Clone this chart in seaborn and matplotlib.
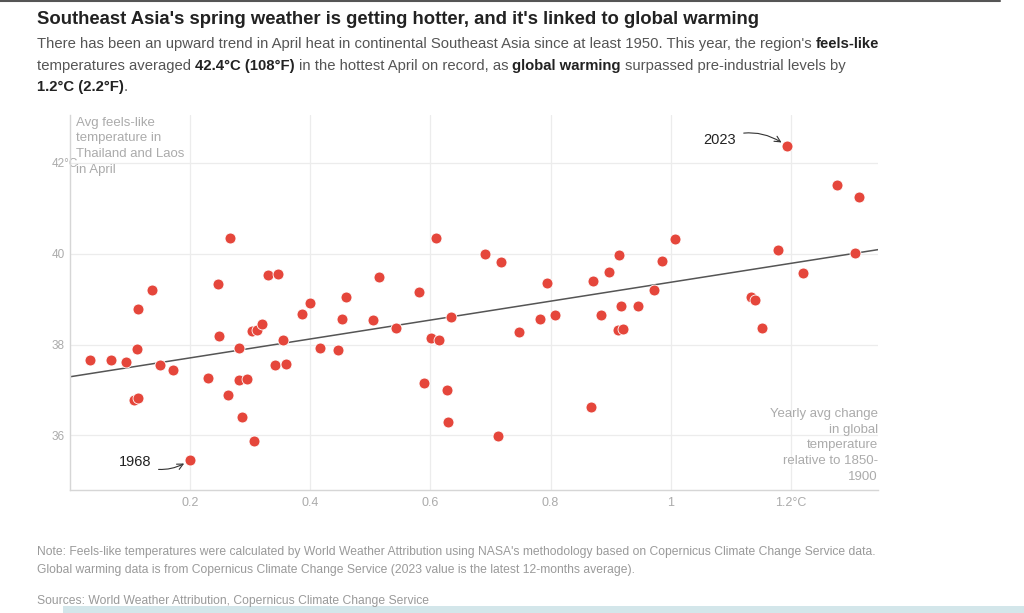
import numpy as np
import pandas as pd
import matplotlib.pyplot as plt
import seaborn as sns
from matplotlib.patches import Rectangle
from matplotlib.lines import Line2D

# ==========================
# Data
# ==========================

# Yearly avg change in global temperature relative to 1850-1900 (°C)
warming = [
    0.033, 0.068, 0.094, 0.111, 0.107, 0.114, 0.114, 0.137, 0.150, 0.171,
    0.200, 0.229, 0.247, 0.248, 0.263, 0.267, 0.282, 0.282, 0.295, 0.286,
    0.303, 0.312, 0.319, 0.307, 0.329, 0.347, 0.354, 0.342, 0.359, 0.387,
    0.399, 0.416, 0.446, 0.453, 0.459, 0.505, 0.515, 0.543, 0.581, 0.589,
    0.601, 0.615, 0.609, 0.634, 0.628, 0.629, 0.691, 0.717, 0.712, 0.748,
    0.783, 0.794, 0.807, 0.867, 0.871, 0.884, 0.898, 0.914, 0.918, 0.913,
    0.920, 0.946, 0.972, 0.986, 1.007, 1.133, 1.141, 1.152, 1.178, 1.194,
    1.220, 1.277, 1.314, 1.307,
]

# Avg feels-like temperature in Thailand and Laos in April (°C)
feels_like = [
    37.66, 37.65, 37.61, 37.90, 36.79, 36.83, 38.79, 39.19, 37.55, 37.44,
    35.46, 37.27, 39.33, 38.18, 36.89, 40.34, 37.92, 37.22, 37.25, 36.41,
    38.30, 38.31, 38.46, 35.88, 39.52, 39.55, 38.11, 37.55, 37.57, 38.68,
    38.92, 37.93, 37.88, 38.57, 39.05, 38.53, 39.49, 38.36, 39.15, 37.15,
    38.15, 38.10, 40.34, 38.60, 36.99, 36.30, 39.99, 39.81, 35.99, 38.27,
    38.56, 39.36, 38.64, 36.62, 39.40, 38.65, 39.60, 39.96, 38.84, 38.31,
    38.34, 38.84, 39.19, 39.84, 40.33, 39.05, 38.98, 38.36, 40.07, 42.36,
    39.58, 41.51, 41.25, 40.01,
]

x_ticks = [0.2, 0.4, 0.6, 0.8, 1.0, 1.2]
x_tick_labels = ["0.2", "0.4", "0.6", "0.8", "1", "1.2°C"]
y_ticks = [36, 38, 40, 42]
y_tick_labels = ["36", "38", "40", "42°C"]

df = pd.DataFrame({"warming": warming, "feels_like": feels_like})

# ==========================
# Style
# ==========================

sns.set_theme(style="whitegrid")
plt.rcParams["font.family"] = ["Liberation Sans", "DejaVu Sans"]

RED = "#e5463b"
GRID = "#ececec"
LIGHT = "#ababab"

fig = plt.figure(figsize=(10.24, 6.13), dpi=100)
ax = fig.add_axes([70 / 1024, 1 - 490 / 613, 808 / 1024, 375 / 613])
ax.set_xlim(0, 1.345)
ax.set_ylim(34.8, 43.05)

# ==========================
# Trend line + scatter
# ==========================

sns.regplot(
    data=df, x="warming", y="feels_like", ax=ax,
    ci=None, truncate=False, scatter=False,
    line_kws=dict(color="#555555", lw=1.1, zorder=2)
)

sns.scatterplot(
    data=df, x="warming", y="feels_like", ax=ax,
    color=RED, s=62, edgecolor="white", linewidth=0.6, zorder=3
)

ax.set_xticks(x_ticks)
ax.set_xticklabels(x_tick_labels)
ax.set_yticks(y_ticks)
ax.set_yticklabels(y_tick_labels, ha="left")
ax.tick_params(axis="y", length=0, pad=13, labelsize=8.5, labelcolor=LIGHT)
ax.tick_params(axis="x", length=0, pad=5, labelsize=9, labelcolor=LIGHT)
ax.set_xlabel("")
ax.set_ylabel("")
ax.grid(color=GRID, lw=0.9)
for side in ["top", "right"]:
    ax.spines[side].set_visible(False)
for side in ["left", "bottom"]:
    ax.spines[side].set_color("#d6d6d6")
    ax.spines[side].set_linewidth(1.0)

# Axis captions inside the plot
ax.text(0.008, 0.995, "Avg feels-like\ntemperature in\nThailand and Laos\nin April",
        transform=ax.transAxes, ha="left", va="top", fontsize=9.5,
        color=LIGHT, linespacing=1.4)
ax.text(1.0, 0.218, "Yearly avg change\nin global\ntemperature\nrelative to 1850-\n1900",
        transform=ax.transAxes, ha="right", va="top", fontsize=9.5,
        color=LIGHT, linespacing=1.4)

# Annotations for coldest (1968) and hottest (2023) years
i_lo = int(np.argmin(feels_like))
i_hi = int(np.argmax(feels_like))
ax.annotate("1968", xy=(warming[i_lo], feels_like[i_lo]),
            xytext=(warming[i_lo] - 0.092, feels_like[i_lo] - 0.05),
            ha="center", va="center", fontsize=10.5, color="#222222",
            arrowprops=dict(arrowstyle="->", color="#333333", lw=0.8,
                            connectionstyle="arc3,rad=0.3", shrinkA=3, shrinkB=5))
ax.annotate("2023", xy=(warming[i_hi], feels_like[i_hi]),
            xytext=(warming[i_hi] - 0.112, feels_like[i_hi] + 0.14),
            ha="center", va="center", fontsize=10.5, color="#222222",
            arrowprops=dict(arrowstyle="->", color="#333333", lw=0.8,
                            connectionstyle="arc3,rad=-0.3", shrinkA=3, shrinkB=5))

# ==========================
# Title, subtitle, notes
# ==========================

fig.text(37 / 1024, 1 - 20 / 613, "Southeast Asia's spring weather is getting hotter, and it's linked to global warming",
         fontsize=13.3, fontweight="bold", color="#222222", va="center")

renderer = fig.canvas.get_renderer()


def text_width(s, weight, size):
    t = fig.text(0, 0, s, fontsize=size, fontweight=weight)
    w = t.get_window_extent(renderer=renderer).width
    t.remove()
    return w


def rich_line(y_px, parts, size=10.7):
    x = 37
    space = text_width("x x", "normal", size) - text_width("xx", "normal", size)
    for i, (s, bold) in enumerate(parts):
        weight = "bold" if bold else "normal"
        if i > 0 and not s.startswith("."):
            x += space
        fig.text(x / 1024, 1 - y_px / 613, s, fontsize=size, fontweight=weight,
                 color="#222222" if bold else "#555555", va="center")
        x += text_width(s, weight, size)


rich_line(44, [("There has been an upward trend in April heat in continental Southeast Asia since at least 1950. This year, the region's", False),
               ("feels-like", True)])
rich_line(66, [("temperatures averaged", False), ("42.4°C (108°F)", True),
               ("in the hottest April on record, as", False), ("global warming", True),
               ("surpassed pre-industrial levels by", False)])
rich_line(87, [("1.2°C (2.2°F)", True), (".", False)])

note_kw = dict(fontsize=8.75, color="#9a9a9a", va="center")
fig.text(37 / 1024, 1 - 552 / 613,
         "Note: Feels-like temperatures were calculated by World Weather Attribution using NASA's methodology based on Copernicus Climate Change Service data.",
         **note_kw)
fig.text(37 / 1024, 1 - 570 / 613,
         "Global warming data is from Copernicus Climate Change Service (2023 value is the latest 12-months average).",
         **note_kw)
fig.text(37 / 1024, 1 - 601 / 613,
         "Sources: World Weather Attribution, Copernicus Climate Change Service", **note_kw)

# Screenshot frame bits
fig.add_artist(Line2D([0, 1000 / 1024], [1 - 1 / 613, 1 - 1 / 613], transform=fig.transFigure,
                      color="#555555", lw=1.5))
fig.add_artist(Rectangle((63 / 1024, 0), 1 - 63 / 1024, 7 / 613, transform=fig.transFigure,
                         facecolor="#d3e6ea", edgecolor="none"))

fig.savefig("out.png", dpi=100)
